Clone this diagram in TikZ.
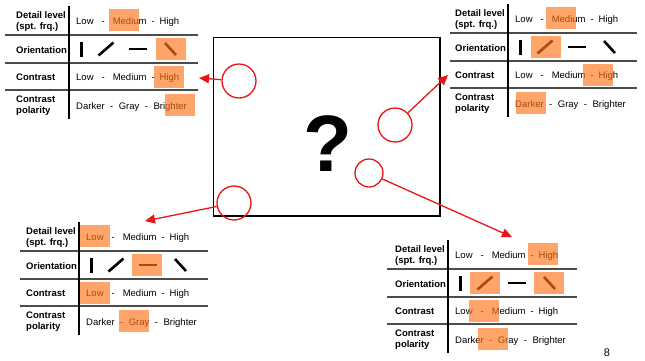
\documentclass[tikz,border=0pt]{standalone}
\usepackage{fontspec}
\setmainfont{Liberation Sans}
\usetikzlibrary{arrows.meta}

\definecolor{redline}{RGB}{235,20,20}
\definecolor{hlorange}{RGB}{255,117,24}

\newcommand{\sepdash}[1]{\hspace{#1pt}-\hspace{#1pt}}
\newcommand{\hilite}[2]{\fill[hilite] ({#1-15},{#2-11}) rectangle ({#1+15},{#2+11});}
\newcommand{\proptable}[2]{%
  \foreach \y in {29,57,84} \draw[rowline] (#2,\y) -- (129,\y);
  \draw[colline] (0,0) -- (0,113);
  \node[lbl] (#1dl) at (-53,15.5) {Detail level\\(spt. frq.)};
  \node[lbl] (#1or) at (-53,44) {Orientation};
  \node[lbl] (#1co) at (-53,71.2) {Contrast};
  \node[lbl] (#1po) at (-53,99.6) {Contrast\\polarity};
  \node[val] (#1dlv) at (7,18) {Low\sepdash{8}Medium\sepdash{5}High};
  \node[val] (#1cov) at (7,74.5) {Low\sepdash{8}Medium\sepdash{5}High};
  \node[val] (#1pov) at (7,103.5) {Darker\sepdash{5.5}Gray\sepdash{5.5}Brighter};
  \draw[tick,line width=3.2pt] (12.5,35.5) -- (12.5,50.5);
  \draw[tick] (29.5,49.5) -- (44.5,36.5);
  \draw[tick] (60,43) -- (78,43);
  \draw[tick] (96,37) -- (107,49);
}

\begin{document}
\begin{tikzpicture}[x=1pt,y=-1pt,
    rowline/.style={draw=black!70,line width=1.1pt},
    colline/.style={draw=black,line width=1.1pt},
    lbl/.style={anchor=west,align=left,inner sep=0pt,font=\fontsize{9.5}{11.5}\selectfont\bfseries},
    val/.style={anchor=base west,inner sep=0pt,font=\fontsize{9.5}{11.5}\selectfont},
    tick/.style={line width=2.6pt},
    hilite/.style={fill=hlorange,fill opacity=.65},
    ring/.style={circle,draw=redline,line width=1.3pt,inner sep=0pt,minimum size=34pt},
    pointer/.style={draw=redline,line width=1.3pt,-{Triangle[length=10pt,width=9pt]}}]
  \useasboundingbox (0,0) rectangle (645,360);

  % the unknown patch
  \draw[line width=1.8pt] (213.5,37.5) rectangle (440,216);
  \node[inner sep=0pt,font=\fontsize{80}{80}\selectfont\bfseries] (q) at (328,143.5) {?};

  % tables
  \begin{scope}[shift={(69,6)}]\proptable{a}{-64}
    \hilite{55}{14}\hilite{102}{43}\hilite{100}{71}\hilite{110.5}{98.5}\end{scope}
  \begin{scope}[shift={(508,4)}]\proptable{b}{-58}
    \hilite{53}{14}\hilite{38}{43}\hilite{90}{71}\hilite{23}{98.5}\end{scope}
  \begin{scope}[shift={(79,222)}]\proptable{c}{-59}
    \hilite{16}{14}\hilite{68}{43}\hilite{16}{71}\hilite{55}{98.5}\end{scope}
  \begin{scope}[shift={(448,240)}]\proptable{d}{-61}
    \hilite{95}{14}\hilite{37}{43}\hilite{101}{43}\hilite{36}{71}\hilite{44.7}{98.5}\end{scope}

  % sampled spots
  \node[ring] (s1) at (239,81) {};
  \node[ring] (s2) at (395,125) {};
  \node[ring,minimum size=28pt] (s3) at (369,173) {};
  \node[ring] (s4) at (234,203) {};

  \coordinate (t1) at (199,78);
  \coordinate (t2) at (448,75);
  \coordinate (t3) at (512,237);
  \coordinate (t4) at (145,221);
  \draw[pointer] (s1) -- (t1);
  \draw[pointer] (s2) -- (t2);
  \draw[pointer] (s3) -- (t3);
  \draw[pointer] (s4) -- (t4);

  \node[anchor=north,inner sep=0pt,font=\fontsize{11}{11}\selectfont] (pg) at (607,349) {8};
\end{tikzpicture}
\end{document}
